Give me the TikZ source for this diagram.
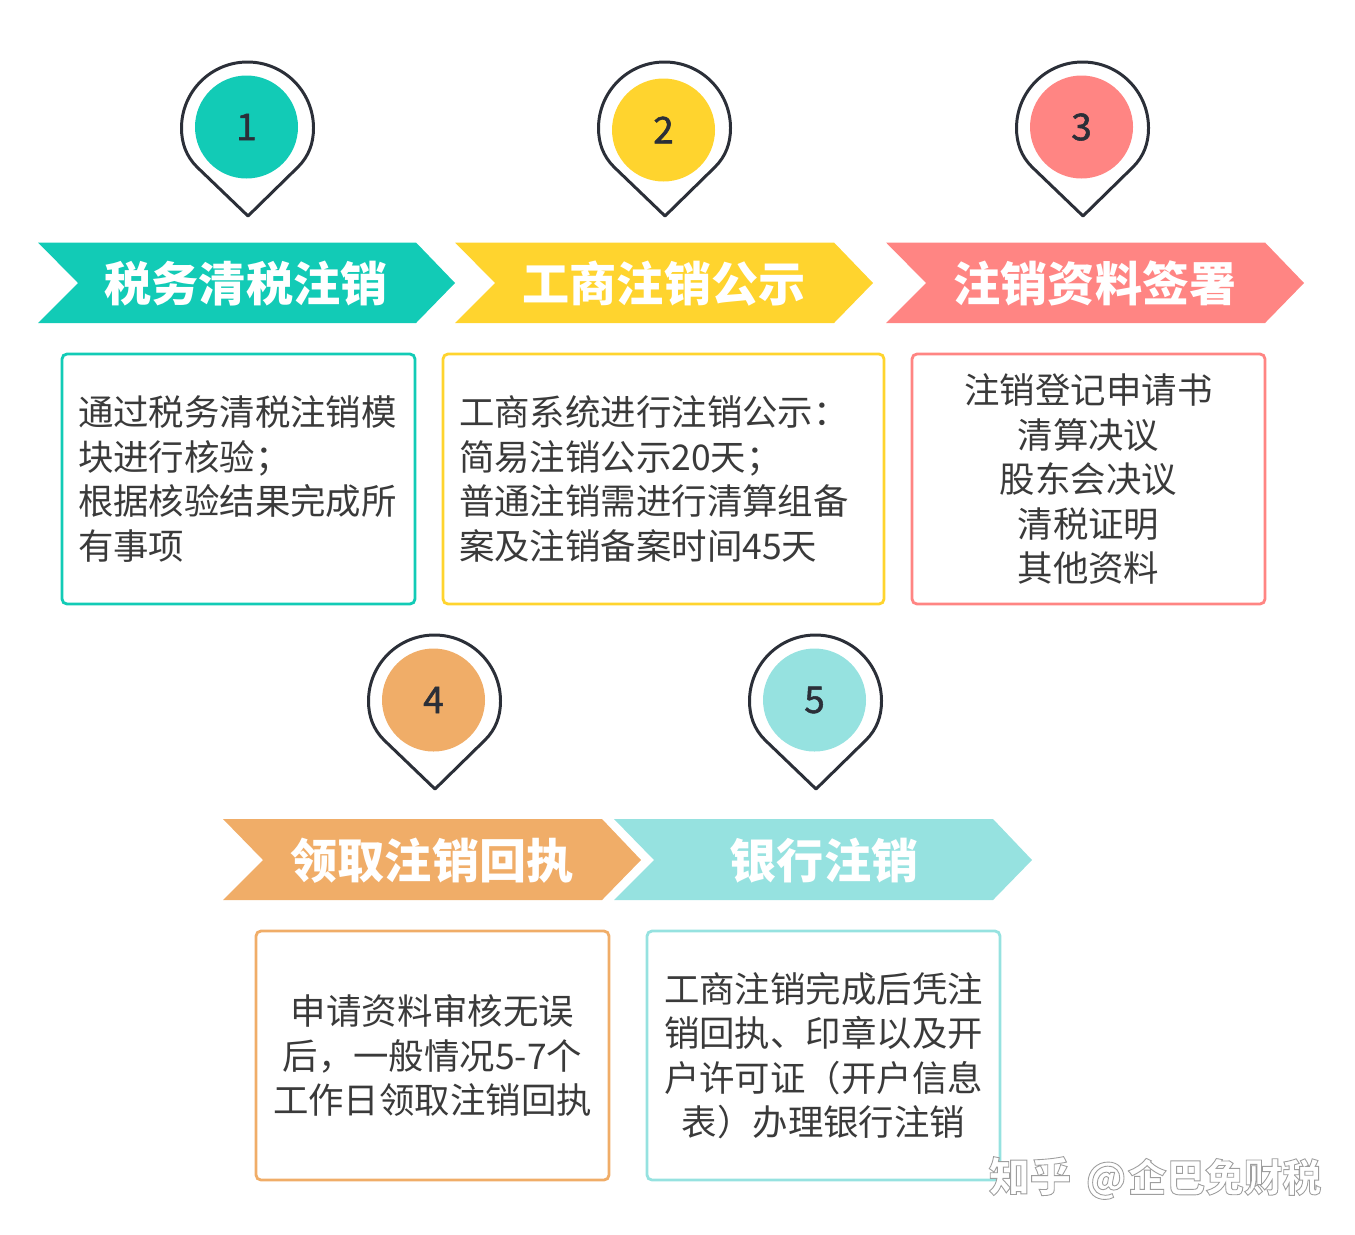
\documentclass[tikz,border=0pt]{standalone}
\usepackage{fontspec}
\setmainfont{Noto Sans CJK SC}
\newfontfamily\numfont[FakeBold=1.5]{Noto Sans CJK SC}

\definecolor{tealmain}{HTML}{12CBB6}
\definecolor{yellowmain}{HTML}{FFD42E}
\definecolor{redmain}{HTML}{FF8583}
\definecolor{orangemain}{HTML}{F0AD68}
\definecolor{cyanmain}{HTML}{96E2E0}
\definecolor{darkline}{HTML}{2B2F38}
\definecolor{bodytext}{HTML}{3A3A3A}

\tikzstyle{pinline}=[draw=darkline, line width=0.85pt, line join=round]
\tikzstyle{numdot}=[circle, minimum size=1.03cm, inner sep=0, text=darkline,
                    font=\fontsize{10.5}{12}\numfont]
\tikzstyle{banner}=[text=white, inner sep=0, font=\fontsize{13.4}{16}\selectfont\bfseries]
\tikzstyle{infobox}=[rectangle, line width=0.8pt, rounded corners=0.05cm,
                     inner sep=0.16cm, text=bodytext,
                     font=\fontsize{10.08}{12.66}\selectfont]

\begin{document}
\begin{tikzpicture}

\useasboundingbox (0, 0) rectangle (13.55, 12.34);

%%%%%%%%%%%%%%%%%%%%%%%%%%%%%%
% pins

\draw[pinline, shift={(2.48, 10.18)}] (0, 0) -- (-0.51, 0.49) .. controls (-0.62, 0.60) and (-0.665, 0.73) .. (-0.665, 0.88)
    arc[start angle=180, end angle=0, radius=0.66] .. controls (0.655, 0.73) and (0.61, 0.60) .. (0.50, 0.49) -- cycle;
\draw[pinline, shift={(6.65, 10.18)}] (0, 0) -- (-0.51, 0.49) .. controls (-0.62, 0.60) and (-0.665, 0.73) .. (-0.665, 0.88)
    arc[start angle=180, end angle=0, radius=0.66] .. controls (0.655, 0.73) and (0.61, 0.60) .. (0.50, 0.49) -- cycle;
\draw[pinline, shift={(10.83, 10.18)}] (0, 0) -- (-0.51, 0.49) .. controls (-0.62, 0.60) and (-0.665, 0.73) .. (-0.665, 0.88)
    arc[start angle=180, end angle=0, radius=0.66] .. controls (0.655, 0.73) and (0.61, 0.60) .. (0.50, 0.49) -- cycle;
\draw[pinline, shift={(4.35, 4.45)}] (0, 0) -- (-0.51, 0.49) .. controls (-0.62, 0.60) and (-0.665, 0.73) .. (-0.665, 0.88)
    arc[start angle=180, end angle=0, radius=0.66] .. controls (0.655, 0.73) and (0.61, 0.60) .. (0.50, 0.49) -- cycle;
\draw[pinline, shift={(8.16, 4.45)}] (0, 0) -- (-0.51, 0.49) .. controls (-0.62, 0.60) and (-0.665, 0.73) .. (-0.665, 0.88)
    arc[start angle=180, end angle=0, radius=0.66] .. controls (0.655, 0.73) and (0.61, 0.60) .. (0.50, 0.49) -- cycle;

\node (num_1) at (2.465, 11.07) [numdot, fill=tealmain] {1};
\node (num_2) at (6.635, 11.04) [numdot, fill=yellowmain] {2};
\node (num_3) at (10.815, 11.07) [numdot, fill=redmain] {3};
\node (num_4) at (4.335, 5.34) [numdot, fill=orangemain] {4};
\node (num_5) at (8.145, 5.34) [numdot, fill=cyanmain] {5};

%%%%%%%%%%%%%%%%%%%%%%%%%%%%%%
% banners

\fill[tealmain] (0.38, 9.915) -- (4.16, 9.915) -- (4.55, 9.51) -- (4.16, 9.11) -- (0.38, 9.11) -- (0.78, 9.51) -- cycle;
\fill[yellowmain] (4.55, 9.915) -- (8.34, 9.915) -- (8.73, 9.51) -- (8.34, 9.11) -- (4.55, 9.11) -- (4.95, 9.51) -- cycle;
\fill[redmain] (8.86, 9.915) -- (12.65, 9.915) -- (13.04, 9.51) -- (12.65, 9.11) -- (8.86, 9.11) -- (9.26, 9.51) -- cycle;
\fill[orangemain] (2.23, 4.15) -- (6.02, 4.15) -- (6.41, 3.74) -- (6.02, 3.34) -- (2.23, 3.34) -- (2.63, 3.74) -- cycle;
\fill[cyanmain] (6.14, 4.15) -- (9.93, 4.15) -- (10.32, 3.74) -- (9.93, 3.34) -- (6.14, 3.34) -- (6.54, 3.74) -- cycle;

\node (title_1) at (2.46, 9.505) [banner] {税务清税注销};
\node (title_2) at (6.64, 9.505) [banner] {工商注销公示};
\node (title_3) at (10.95, 9.505) [banner] {注销资料签署};
\node (title_4) at (4.32, 3.735) [banner] {领取注销回执};
\node (title_5) at (8.24, 3.735) [banner] {银行注销};

%%%%%%%%%%%%%%%%%%%%%%%%%%%%%%
% boxes

\node (box_1) at (2.385, 7.55) [infobox, draw=tealmain, minimum width=3.53cm, minimum height=2.5cm,
    text width=3.21cm, align=left] {通过税务清税注销模\\块进行核验；\\根据核验结果完成所\\有事项};
\node (box_2) at (6.635, 7.55) [infobox, draw=yellowmain, minimum width=4.41cm, minimum height=2.5cm,
    text width=4.09cm, align=left] {工商系统进行注销公示：\\简易注销公示20天；\\普通注销需进行清算组备\\案及注销备案时间45天};
\node (box_3) at (10.885, 7.55) [infobox, draw=redmain, minimum width=3.53cm, minimum height=2.5cm,
    text width=3.21cm, align=center] {注销登记申请书\\清算决议\\股东会决议\\清税证明\\其他资料};
\node (box_4) at (4.325, 1.785) [infobox, draw=orangemain, minimum width=3.53cm, minimum height=2.49cm,
    text width=3.21cm, align=center] {申请资料审核无误\\后，一般情况5-7个\\工作日领取注销回执};
\node (box_5) at (8.235, 1.785) [infobox, draw=cyanmain, minimum width=3.53cm, minimum height=2.49cm,
    text width=3.21cm, align=center] {工商注销完成后凭注\\销回执、印章以及开\\户许可证（开户信息\\表）办理银行注销};

%%%%%%%%%%%%%%%%%%%%%%%%%%%%%%
% watermark

\node (mark) at (11.55, 0.56) [inner sep=0, text=white, font=\fontsize{11}{14}\selectfont\bfseries]
    {\special{pdf:code q 0.62 G 0.25 w 2 Tr}{\fontsize{11.7}{14}\selectfont 知乎}\hspace{1.7pt} @\hspace{0.5pt}企巴免财税\special{pdf:code 0 Tr Q}};

\end{tikzpicture}
\end{document}
